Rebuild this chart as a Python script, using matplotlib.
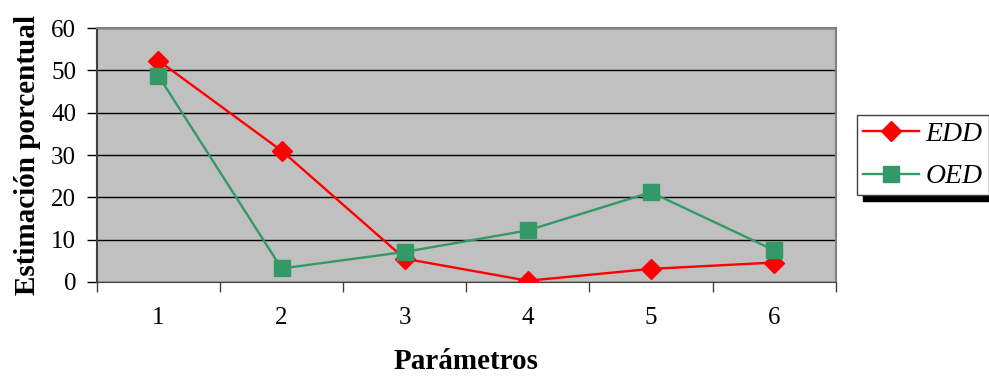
import matplotlib.pyplot as plt
import numpy as np

plt.rcParams['font.family'] = ['Liberation Serif', 'DejaVu Serif']

parametros = [1, 2, 3, 4, 5, 6]
edd = [52.3, 31.0, 5.5, 0.3, 3.1, 4.6]
oed = [48.7, 3.2, 7.1, 12.2, 21.2, 7.5]

fig = plt.figure(figsize=(9.89, 3.76), dpi=100)
ax = fig.add_axes([0.098, 0.25, 0.747, 0.6755])
ax.set_facecolor('#C0C0C0')

ax.plot(parametros, edd, color='#FF0000', lw=1.7, marker='D', ms=10,
        label='EDD', zorder=3)
ax.plot(parametros, oed, color='#339966', lw=1.7, marker='s', ms=11,
        label='OED', zorder=3)

ax.set_xlim(0.5, 6.5)
ax.set_ylim(0, 60)
ax.set_yticks(np.arange(0, 61, 10))
ax.yaxis.grid(True, color='black', lw=1)
ax.set_axisbelow(True)

ax.set_xticks(parametros)
ax.set_xticks(np.arange(0.5, 6.6, 1), minor=True)
ax.tick_params(axis='x', which='major', length=0, pad=18, labelsize=18)
ax.tick_params(axis='x', which='minor', length=7, width=1, color='#404040')
ax.tick_params(axis='y', length=7, width=1, labelsize=18, pad=8)

for side in ['top', 'right']:
    ax.spines[side].set_color('#808080')
    ax.spines[side].set_linewidth(1.5)
ax.spines['left'].set_color('#404040')
ax.spines['bottom'].set_color('#404040')
ax.spines['left'].set_linewidth(1.5)

ax.set_ylabel('Estimación porcentual', fontsize=21, fontweight='bold', labelpad=7)
ax.set_xlabel('Parámetros', fontsize=21, fontweight='bold', labelpad=14)

leg = fig.legend(loc='upper left', bbox_to_anchor=(0.8665, 0.694),
                 prop={'style': 'italic', 'size': 20}, fancybox=False,
                 edgecolor='#404040', framealpha=1, borderpad=0.22,
                 borderaxespad=0, handlelength=2.0, handletextpad=0.25,
                 labelspacing=0.62,
                 shadow={'ox': 4.5, 'oy': -4, 'color': 'black', 'alpha': 1})
leg.get_frame().set_linewidth(1)

fig.savefig('out.png', dpi=100)
